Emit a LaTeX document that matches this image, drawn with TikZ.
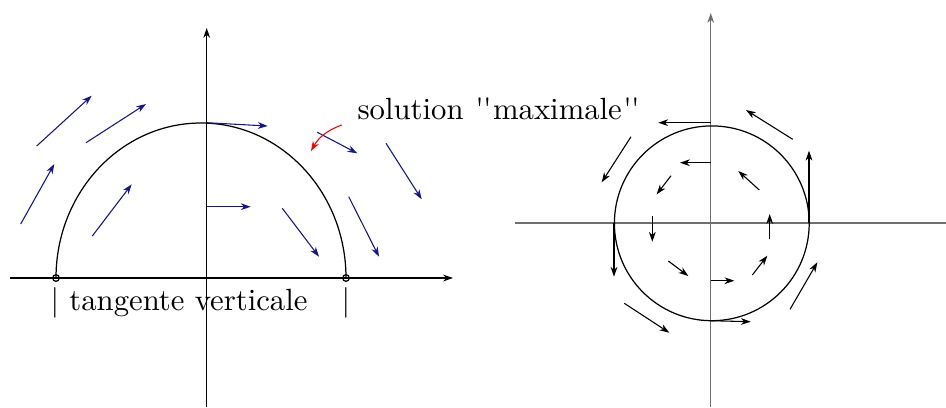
\documentclass[tikz,border=0pt]{standalone}
\usepackage{tikz}
\usetikzlibrary{arrows.meta}

\definecolor{fieldblue}{RGB}{20,20,150}
\definecolor{axisgray}{RGB}{110,110,110}

\newcommand{\wquote}{\kern0.5pt\textquotesingle\kern-0.3pt\textquotesingle\kern0.5pt}

\tikzset{
  vec/.style = {-{Stealth[length=3.2pt,width=2.2pt,inset=1pt]}, line width=0.35pt},
  bluevec/.style = {vec, fieldblue},
  axis/.style = {line width=0.4pt},
}

\begin{document}
\begin{tikzpicture}[x=0.01144cm, y=-0.01144cm]
  \useasboundingbox (0,0) rectangle (946,407);

  % Left: axes
  \draw[axis, vec] (10,278) -- (453,278);
  \draw[axis, vec] (206.7,407) -- (206.7,28);

  % Left: maximal solution
  \draw (56,278) arc[start angle=180, end angle=360, x radius=145, y radius=155];
  \draw (56,278) circle[radius=3.3];
  \draw (346,278) circle[radius=3.3];

  % Left: field
  \foreach \a/\b/\c/\d in {36.7/146/91.7/95.7, 86/142.7/146/104,
      20.7/224/54.3/164, 92.3/236/131.7/184.3, 206.7/122.7/267.7/126,
      206.7/206.7/250.7/206.7, 317.3/132.3/357.3/153.3,
      386/143.3/421.7/199.3, 282.3/208.3/319/256.7, 348.7/196.7/379/256.7}
    \draw[bluevec] (\a,\b) -- (\c,\d);

  % Labels
  \node[anchor=base west, inner sep=0] (sol) at (357,119)
    {solution \wquote maximale\wquote};
  \node[anchor=base west, inner sep=0] (tang) at (50,310) {| tangente verticale};
  \node[anchor=base, inner sep=0] (bar) at (346,310) {|};
  \draw[vec, red] (341.7,125) to[bend right=20] (311,151);

  % Right: axes
  \draw[axis, axisgray, line width=0.6pt] (515,222.7) -- (946,222.7);
  \draw[axis, axisgray, line width=0.6pt, vec] (710.7,407) -- (710.7,13);

  % Right: closed orbit
  \draw (711.8,223.3) circle[radius=97.4];

  % Right: field
  \foreach \a/\b/\c/\d in {710.7/122.7/658.3/122.7, 710.7/162.7/680/162.7,
      792.7/139.3/746/110, 809/222.7/809/150.7, 631/136.7/601.7/182.3,
      671/175.7/656.7/194.3, 759.3/190/738.3/171, 652.3/215.7/652.3/241.7,
      769.7/239.3/769.7/214, 614/222.7/614/276.7, 668.3/261/688.3/276,
      710.7/280.7/734.3/280.7, 752.3/275/767.3/255.7,
      624.3/303.3/669.3/332.7, 710.7/320.7/750.7/321.7,
      790/309.3/817.3/262.3}
    \draw[vec] (\a,\b) -- (\c,\d);
\end{tikzpicture}
\end{document}
